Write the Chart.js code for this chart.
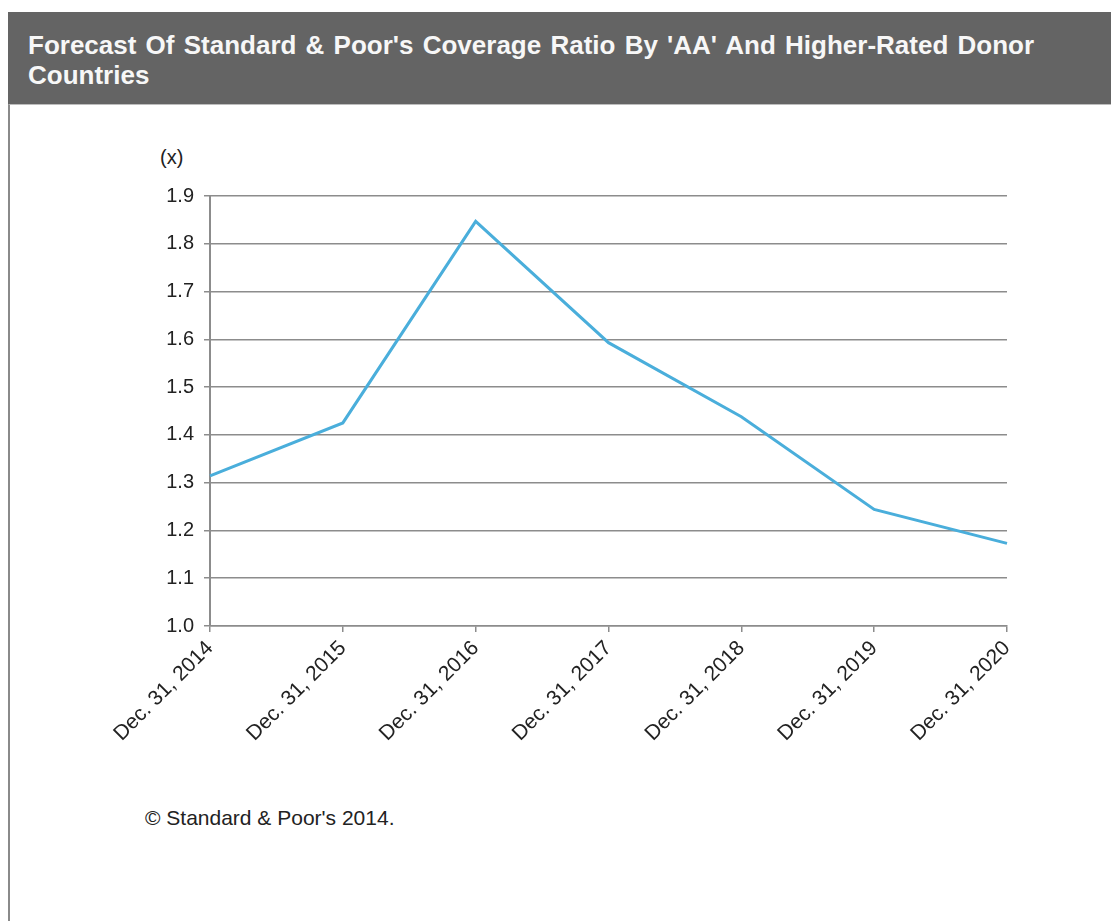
<!DOCTYPE html>
<html>
<head>
<meta charset="utf-8">
<script src="https://cdn.jsdelivr.net/npm/chart.js@4/dist/chart.umd.min.js"></script>
<style>
    html, body { margin: 0; padding: 0; background: #fff; }
    body { width: 1111px; height: 921px; position: relative; overflow: hidden; font-family: "Liberation Sans", Arial, sans-serif; }
    #frame { position: absolute; left: 8px; top: 104px; width: 1103px; height: 817px; border-left: 2px solid #8a8a8a; border-top: 1px solid #bdbdbd; box-sizing: border-box; }
    #header { position: absolute; left: 8px; top: 12px; width: 1103px; height: 92px; background: #646464; color: #f7f7f7; font-weight: bold; font-size: 26px; line-height: 30px; word-spacing: 2px; padding: 18px 0 0 20px; box-sizing: border-box; }
    #unit { position: absolute; left: 160px; top: 146px; font-size: 20px; color: #222; }
    #source { position: absolute; left: 145px; top: 806px; font-size: 21px; color: #222; }
    #wrap { position: absolute; left: 0; top: 0; width: 1111px; height: 921px; }
</style>
</head>
<body>
<div id="frame"></div>
<div id="header">Forecast Of Standard &amp; Poor's Coverage Ratio By 'AA' And Higher-Rated Donor<br>Countries</div>
<div id="unit">(x)</div>
<div id="source">© Standard &amp; Poor's 2014.</div>
<div id="wrap"><canvas id="chart" width="1111" height="921"></canvas></div>
<script>
    const periods = ['Dec. 31, 2014', 'Dec. 31, 2015', 'Dec. 31, 2016', 'Dec. 31, 2017', 'Dec. 31, 2018', 'Dec. 31, 2019', 'Dec. 31, 2020'];
    const coverageRatio = [1.314, 1.425, 1.847, 1.593, 1.438, 1.244, 1.173];
    const yMin = 1.0;
    const yMax = 1.9;
    const yStep = 0.1;

    const gridGray = '#8c8c8c';
    const fontFamily = '"Liberation Sans", Arial, sans-serif';

    new Chart(document.getElementById('chart'), {
        type: 'line',
        data: {
            labels: periods,
            datasets: [{
                data: coverageRatio,
                borderColor: '#4aaedb',
                borderWidth: 3,
                pointRadius: 0,
                tension: 0,
                fill: false
            }]
        },
        options: {
            responsive: false,
            animation: false,
            layout: { padding: { left: 110, right: 104, top: 196, bottom: 145 } },
            plugins: {
                legend: { display: false },
                title: { display: false },
                tooltip: { enabled: false }
            },
            scales: {
                x: {
                    offset: false,
                    afterFit: scale => { scale.height = 150; },
                    grid: { drawOnChartArea: false, drawTicks: true, tickLength: 6, color: gridGray, lineWidth: 1.5 },
                    border: { color: gridGray, width: 1.5 },
                    ticks: {
                        autoSkip: false,
                        minRotation: 45,
                        maxRotation: 45,
                        padding: 4,
                        color: '#222',
                        font: { family: fontFamily, size: 21 }
                    }
                },
                y: {
                    min: yMin,
                    max: yMax,
                    afterFit: scale => { scale.width = 100; },
                    grid: { color: gridGray, lineWidth: 1.5, tickLength: 6 },
                    border: { color: gridGray, width: 2 },
                    ticks: {
                        stepSize: yStep,
                        padding: 10,
                        color: '#222',
                        font: { family: fontFamily, size: 20 },
                        callback: v => v.toFixed(1)
                    }
                }
            }
        }
    });
</script>
</body>
</html>
